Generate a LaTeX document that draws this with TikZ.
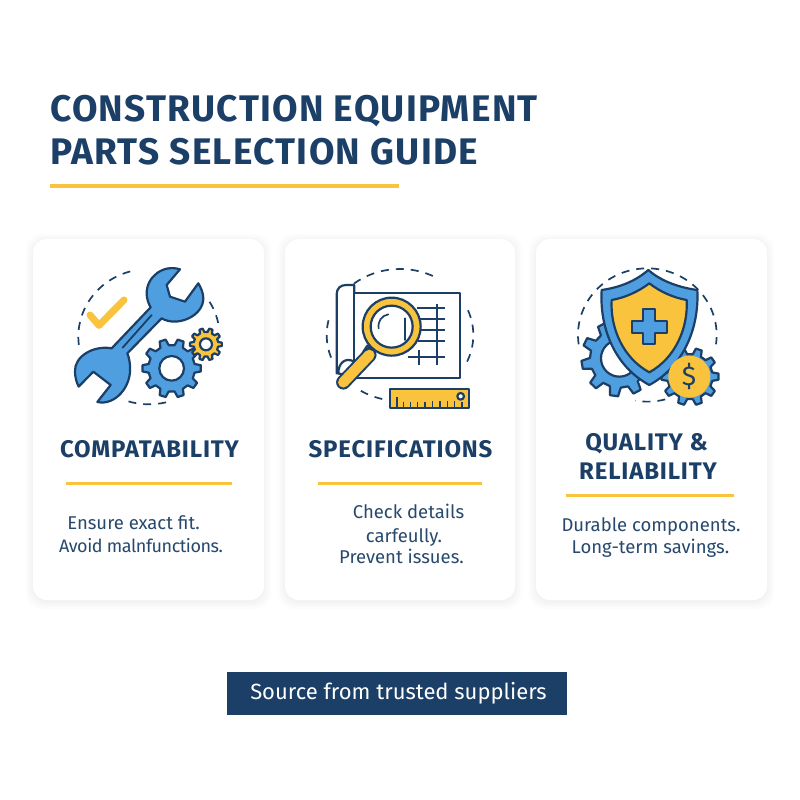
\documentclass[tikz,border=0pt]{standalone}
\usepackage{fontspec}
\setmainfont{Fira Sans}
\newfontfamily\spacedfont[LetterSpace=3.5]{Fira Sans}
\newfontfamily\tightfont[LetterSpace=-2.5]{Fira Sans}
\definecolor{navy}{HTML}{1B3F66}
\definecolor{blu}{HTML}{4F9EE0}
\definecolor{yel}{HTML}{F9C33D}
\definecolor{txt}{HTML}{27496D}
\tikzset{
  cardbox/.style={fill=white,rounded corners=14pt},
  titletxt/.style={text=navy,font=\spacedfont\bfseries\fontsize{37}{40}\selectfont,anchor=base west,inner sep=0pt},
  headtxt/.style={text=navy,font=\spacedfont\bfseries\fontsize{24}{26}\selectfont,inner sep=0pt,anchor=base},
  bodytxt/.style={text=txt,font=\fontsize{18.5}{20}\selectfont,inner sep=0pt,anchor=base},
  rulehead/.style={yel,line width=3pt},
  outl/.style={draw=navy,line width=2.2pt,line join=round},
  dashring/.style={navy,line width=1.7pt,dash pattern=on 8pt off 7pt},
  zoomA/.style={x=.3333pt,y=-.3333pt,shift={(50pt,-250pt)}},
  zoomB/.style={x=.3333pt,y=-.3333pt,shift={(310pt,-255pt)}},
  zoomC/.style={x=.3333pt,y=-.3333pt,shift={(560pt,-255pt)}},
}
% \gearshape{cx}{cy}{rin}{rout}{teeth}{fill}{rotation}
\newcommand{\gearshape}[7]{%
  \begin{scope}[shift={(#1,#2)},rotate=#7]
  \pgfmathsetmacro{\gd}{360/#5}
  \draw[outl,fill=#6] ({-0.3*\gd}:#3)
    \foreach \gi in {1,...,#5}{
      -- ({(\gi-1)*\gd-0.3*\gd}:#3)
      -- ({(\gi-1)*\gd-0.17*\gd}:#4)
      -- ({(\gi-1)*\gd+0.17*\gd}:#4)
      -- ({(\gi-1)*\gd+0.3*\gd}:#3)
    } -- cycle;
  \end{scope}}
\newcommand{\ringarc}[6]{%
  \draw[dashring] (#1,#2) ++(#5:#3 and #4) arc[start angle=#5,end angle=#6,x radius=#3,y radius=#4];}
\begin{document}
\begin{tikzpicture}[x=1pt,y=-1pt]
\useasboundingbox (0,0) rectangle (800,800);
\fill[white] (0,0) rectangle (800,800);
% title
\node[titletxt] (t1) at (50,121) {CONSTRUCTION EQUIPMENT};
\node[titletxt] (t2) at (50,164) {PARTS SELECTION GUIDE};
\draw[rulehead,line width=3.5pt] (50,186) -- (399,186);
% cards with soft shadow
\foreach \xa/\xb in {33/264,285/515,536/767}{
  \foreach \g in {7,5,3,1}{
    \fill[black,opacity=.012,rounded corners=16pt] (\xa-\g,239-\g+2) rectangle (\xb+\g,600+\g+2);
  }
  \fill[cardbox] (\xa,239) rectangle (\xb,600);
}
% ---- icon 1
\begin{scope}[zoomA]
  \ringarc{297}{260}{212}{203}{173}{259}
  \ringarc{297}{260}{212}{203}{329}{352}
  \ringarc{297}{260}{212}{203}{76}{108}
  \draw[yel,line width=7pt,line cap=round,line join=round] (120,195) -- (147,226) -- (222,150);
  \draw[outl,fill=blu] (390,58) .. controls (340,42) and (290,80) .. (290,130)
     .. controls (290,145) and (295,160) .. (302,172) -- (185,295)
     .. controls (130,285) and (72,320) .. (75,365) .. controls (75,382) and (80,398) .. (86,410)
     -- (130,365) -- (182,405) -- (142,456)
     .. controls (195,468) and (245,410) .. (240,350) .. controls (240,338) and (237,322) .. (232,310)
     -- (335,205) .. controls (380,232) and (460,200) .. (460,145) .. controls (460,128) and (452,112) .. (445,100)
     -- (405,155) -- (360,140) -- (350,105) -- cycle;
  \draw[navy,line width=1.8pt,line cap=round] (218,293) -- (305,195);
  \gearshape{365}{355}{70}{88}{10}{blu}{0}
  \draw[outl,fill=white] (365,355) circle[radius=37];
  \gearshape{468}{283}{37}{48}{10}{yel}{0}
  \draw[outl,fill=white] (468,283) circle[radius=18];
\end{scope}
% ---- icon 2
\begin{scope}[zoomB]
  \ringarc{270}{240}{220}{198}{160}{197}
  \ringarc{270}{240}{220}{198}{231}{300}
  \ringarc{270}{240}{220}{198}{338}{388}
  \ringarc{270}{240}{220}{198}{104}{126}
  \draw[outl,fill=white] (133,90) -- (108,90) .. controls (92,90) and (80,100) .. (80,118) -- (80,355) -- (133,355) -- cycle;
  \draw[outl,fill=white] (133,115) rectangle (450,368);
  \draw[outl,fill=white] (133,320) .. controls (105,305) and (85,325) .. (85,355) -- (133,368);
  \foreach \yy/\xs in {158/320,192/325,225/330,257/325,307/295}{
    \draw[navy,line width=1.9pt] (\xs,\yy) -- (405,\yy);
  }
  \draw[navy,line width=1.9pt] (380,148) -- (380,330);
  \draw[navy,line width=1.9pt] (328,285) -- (328,330);
  \draw[outl,fill=white] (172,272) -- (195,295) -- (180,310) -- (160,290) -- cycle;
  \draw[navy,line width=14.5pt,line cap=round] (178,300) -- (100,382);
  \draw[yel,line width=10.5pt,line cap=round] (178,300) -- (100,382);
  \draw[outl,fill=yel] (245,215) circle[radius=87];
  \draw[outl,fill=white] (245,215) circle[radius=63];
  \draw[navy,line width=1.7pt,line cap=round] (235,178) .. controls (215,182) and (203,198) .. (206,220);
  \draw[navy,line width=1.7pt,line cap=round] (285,190) -- (285,255);
  \draw[outl,fill=yel] (240,402) rectangle (478,458);
  \foreach \xx/\yy in {261/425,281/440,301/440,322/440,345/440,367/437,390/437,412/437,434/437,456/440}{
    \draw[navy,line width=1.5pt] (\xx,458) -- (\xx,\yy);
  }
  \draw[outl,fill=white,line width=2.2pt] (452,424) circle[radius=10];
\end{scope}
% ---- icon 3
\begin{scope}[zoomC]
  \ringarc{262}{240}{208}{200}{172}{368}
  \ringarc{262}{240}{208}{200}{75}{100}
  \gearshape{178}{310}{88}{114}{10}{blu}{10}
  \draw[outl,fill=white] (178,310) circle[radius=55];
  \gearshape{390}{365}{68}{86}{10}{blu}{0}
  \draw[outl,fill=blu] (265,45) .. controls (225,80) and (175,98) .. (125,105)
     .. controls (118,220) and (165,335) .. (268,390)
     .. controls (370,335) and (418,220) .. (412,105)
     .. controls (360,98) and (305,80) .. (265,45) -- cycle;
  \draw[outl,fill=yel] (268,85) .. controls (235,110) and (195,128) .. (155,135)
     .. controls (150,220) and (190,310) .. (268,352)
     .. controls (345,310) and (385,220) .. (380,135)
     .. controls (340,128) and (300,110) .. (268,85) -- cycle;
  \draw[outl,fill=blu] (250,163) -- (286,163) -- (286,198) -- (321,198) -- (321,233) -- (286,233) -- (286,268) -- (250,268) -- (250,233) -- (216,233) -- (216,198) -- (250,198) -- cycle;
  \fill[yel] (388,365) circle[radius=63];
  \node[text=navy,font=\fontsize{27}{30}\selectfont,inner sep=0pt] (dollar) at (387,363) {\$};
\end{scope}
% ---- headings
\node[headtxt] (h1) at (149.5,457) {COMPATABILITY};
\node[headtxt] (h2) at (400.5,457) {SPECIFICATIONS};
\node[headtxt] (h3a) at (646.5,450) {QUALITY \&};
\node[headtxt] (h3b) at (648,479) {RELIABILITY};
\draw[rulehead] (66,483) -- (232,483);
\draw[rulehead] (318,483) -- (482,483);
\draw[rulehead] (566,495.5) -- (734,495.5);
% ---- body
\node[bodytxt] (b1a) at (133.5,529) {Ensure exact fit.};
\node[bodytxt,font=\tightfont\fontsize{18}{20}\selectfont] (b1b) at (141,552) {Avoid malnfunctions.};
\node[bodytxt] (b2a) at (408.5,518) {Check details};
\node[bodytxt] (b2b) at (404,542) {carfeully.};
\node[bodytxt] (b2c) at (401.5,563) {Prevent issues.};
\node[bodytxt] (b3a) at (651,531) {Durable components.};
\node[bodytxt] (b3b) at (650.5,553) {Long-term savings.};
% ---- banner
\fill[navy] (227,672) rectangle (567,715);
\node[text=white,font=\fontsize{22}{24}\selectfont,inner sep=0pt] (src) at (398.5,693) {Source from trusted suppliers};
\end{tikzpicture}
\end{document}
